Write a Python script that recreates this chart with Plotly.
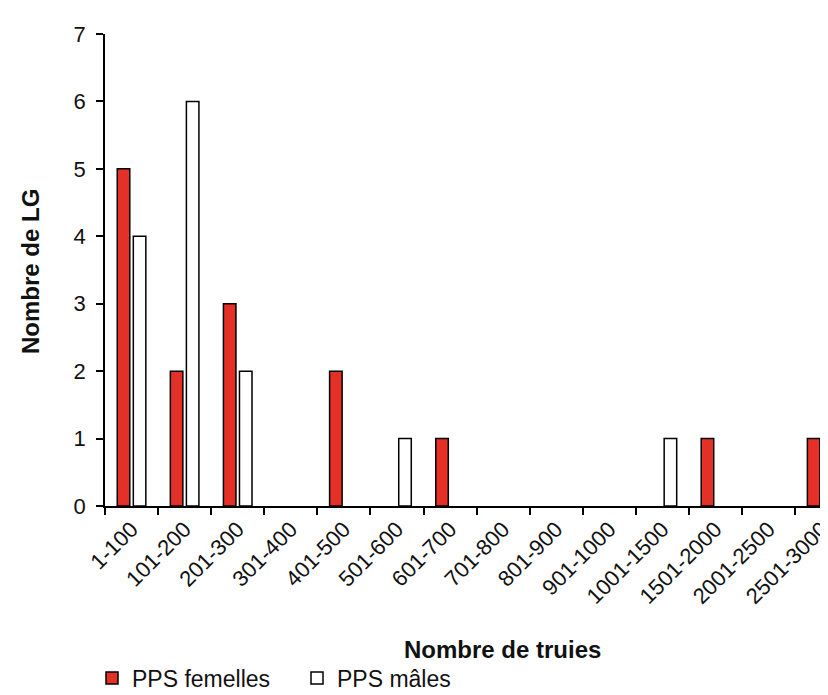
import plotly.graph_objects as go

categories = ["1-100", "101-200", "201-300", "301-400", "401-500", "501-600", "601-700",
              "701-800", "801-900", "901-1000", "1001-1500", "1501-2000", "2001-2500", "2501-3000"]
femelles = [5, 2, 3, 0, 2, 0, 1, 0, 0, 0, 0, 1, 0, 1]
males = [4, 6, 2, 0, 0, 1, 0, 0, 0, 0, 1, 0, 0, 0]
y_ticks = [0, 1, 2, 3, 4, 5, 6, 7]

W, H = 828, 695
L, R, T, B = 97, 0, 26, 197
FONT = "Liberation Sans, Arial, sans-serif"


def edge_widths(values):
    # no outline for empty bars (Excel draws nothing there)
    return [1.5 if v else 0 for v in values]


fig = go.Figure()
fig.add_trace(go.Bar(x=categories, y=femelles, name="PPS femelles",
                     marker=dict(color="#E53027",
                                 line=dict(color="#000000", width=edge_widths(femelles)))))
fig.add_trace(go.Bar(x=categories, y=males, name="PPS mâles",
                     marker=dict(color="#FFFFFF",
                                 line=dict(color="#000000", width=edge_widths(males)))))

pw = W - L - R
ph = H - T - B

fig.update_layout(
    width=W, height=H,
    margin=dict(l=L, r=R, t=T, b=B, autoexpand=False),
    paper_bgcolor="white", plot_bgcolor="white",
    barmode="group", bargap=0.395, bargroupgap=0.22,
    font=dict(family=FONT, size=22, color="#111111"),
    showlegend=True,
    legend=dict(orientation="h", x=(84 - L) / pw, xanchor="left",
                y=(498 - 670) / ph, yanchor="middle",
                font=dict(size=23), entrywidth=160, entrywidthmode="pixels",
                bgcolor="rgba(0,0,0,0)", tracegroupgap=0),
    xaxis=dict(type="category", range=[-0.5, 13.27], showline=True, linecolor="#000000",
               linewidth=1.5, ticks="outside", tickson="boundaries", ticklen=7,
               tickcolor="#000000", tickwidth=1.5, tickangle=-45, showgrid=False,
               tickfont=dict(size=22), automargin=False),
    yaxis=dict(range=[0, 7], tickvals=y_ticks, showline=True, linecolor="#000000",
               linewidth=1.5, ticks="outside", ticklen=7, tickcolor="#000000", tickwidth=1.5,
               showgrid=False, zeroline=False, tickfont=dict(size=22), automargin=False,
               ticklabelstandoff=6),
    annotations=[
        dict(text="<b>Nombre de truies</b>", xref="paper", yref="paper",
             x=(494 - L) / pw, y=(498 - 641) / ph, xanchor="center", yanchor="middle",
             showarrow=False, font=dict(size=24)),
        dict(text="<b>Nombre de LG</b>", xref="paper", yref="paper", textangle=-90,
             x=(22 - L) / pw, y=(498 - 264) / ph, xanchor="center", yanchor="middle",
             showarrow=False, font=dict(size=24)),
    ],
)

fig.write_html("out.html")
